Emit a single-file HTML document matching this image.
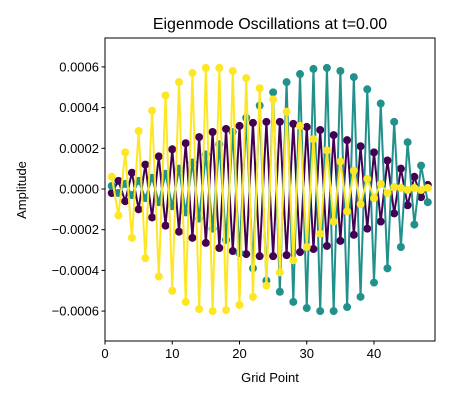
<!DOCTYPE html>
<html><head><meta charset="utf-8"><style>
body{margin:0;background:#fff;}
svg text{font-family:"Liberation Sans","DejaVu Sans",sans-serif;fill:#000;}
</style></head><body>
<svg id="c" width="450" height="400" xmlns="http://www.w3.org/2000/svg"></svg>
<script>
const xTicks=[0,10,20,30,40];
const yTicks=[-0.0006,-0.0004,-0.0002,0,0.0002,0.0004,0.0006];
const yTickLabels=["\u22120.0006","\u22120.0004","\u22120.0002","0.0000","0.0002","0.0004","0.0006"];
const purple=[-0.2,0.4,-0.6,0.8,-1.0,1.2,-1.4,1.6,-1.8,1.95,-2.1,2.25,-2.4,2.55,-2.65,2.8,-2.9,2.95,-3.05,3.1,-3.2,3.25,-3.3,3.3,-3.3,3.3,-3.25,3.2,-3.1,3.05,-2.95,2.9,-2.8,2.65,-2.55,2.4,-2.25,2.1,-1.95,1.8,-1.6,1.4,-1.2,1.0,-0.8,0.6,-0.4,0.2];
const teal=[0.15,-0.2,0.25,-0.3,0.4,-0.45,0.55,-0.65,0.75,-0.85,1.0,-1.15,1.3,-1.45,1.7,-1.95,2.2,-2.5,2.8,-3.15,3.5,-3.9,4.1,-4.5,4.75,-5.05,5.25,-5.55,5.65,-5.85,5.9,-6.0,5.95,-6.0,5.8,-5.8,5.5,-5.3,4.9,-4.6,4.2,-3.9,3.3,-2.85,2.3,-1.75,1.15,-0.65];
const yellow=[0.6,-1.3,1.8,-2.4,2.85,-3.4,3.85,-4.3,4.6,-5.0,5.25,-5.55,5.7,-5.9,5.95,-6.0,5.95,-5.95,5.8,-5.7,5.45,-5.3,4.95,-4.75,4.4,-4.1,3.8,-3.5,3.1,-2.85,2.45,-2.2,1.9,-1.6,1.35,-1.1,0.9,-0.75,0.5,-0.45,0.25,-0.2,0.1,0.05,-0.05,0.05,-0.05,0.05];
const SCALE=1e-4;
const L=105,R=435,T=38,B=341,xmin=0,xmax=49.07,ymin=-0.000747,ymax=0.000742;
const X=v=>L+(v-xmin)/(xmax-xmin)*(R-L);
const Y=v=>B-(v-ymin)/(ymax-ymin)*(B-T);
const svg=document.getElementById('c');
const NS="http://www.w3.org/2000/svg";
function mk(tag,attrs,parent){const e=document.createElementNS(NS,tag);for(const k in attrs)e.setAttribute(k,attrs[k]);(parent||svg).appendChild(e);return e;}
function txt(s,attrs,parent){const e=mk('text',attrs,parent);e.textContent=s;return e;}
const clip=mk('clipPath',{id:'cp'});mk('rect',{x:L,y:T,width:R-L,height:B-T},clip);
function series(arr,color,name){
  const g=mk('g',{'clip-path':'url(#cp)'});
  
  
  const pts=arr.map((v,i)=>X(i+1).toFixed(2)+','+Y(v*SCALE).toFixed(2)).join(' ');
  const pl=mk('polyline',{points:pts,fill:'none',stroke:color,'stroke-width':2,'stroke-linejoin':'round'},g);
  
  
  arr.forEach((v,i)=>{const c=mk('circle',{cx:X(i+1),cy:Y(v*SCALE),r:4,fill:color},g);
    
    });
}
series(purple,'#440154','mode-purple');
series(teal,'#21918c','mode-teal');
series(yellow,'#fde725','mode-yellow');
const frame=mk('rect',{x:L,y:T,width:R-L,height:B-T,fill:'none',stroke:'#000','stroke-width':1});


xTicks.forEach(t=>{const x=X(t);mk('line',{x1:x,x2:x,y1:B,y2:B+3.5,stroke:'#000'});
  const e=txt(String(t),{x:x,y:B+17,'font-size':13,'text-anchor':'middle'});
  
  });
yTicks.forEach((t,i)=>{const y=Y(t);mk('line',{x1:L-3.5,x2:L,y1:y,y2:y,stroke:'#000'});
  const e=txt(yTickLabels[i],{x:L-6,y:y+4.5,'font-size':13,'text-anchor':'end'});
  
  });
const t1=txt('Eigenmode Oscillations at t=0.00',{x:270,y:29,'font-size':16,'text-anchor':'middle'});


const t2=txt('Grid Point',{x:270,y:382,'font-size':13,'text-anchor':'middle'});


const t3=txt('Amplitude',{x:0,y:0,'font-size':13,'text-anchor':'middle',transform:'translate(26,190) rotate(-90)'});


</script>
</body></html>
